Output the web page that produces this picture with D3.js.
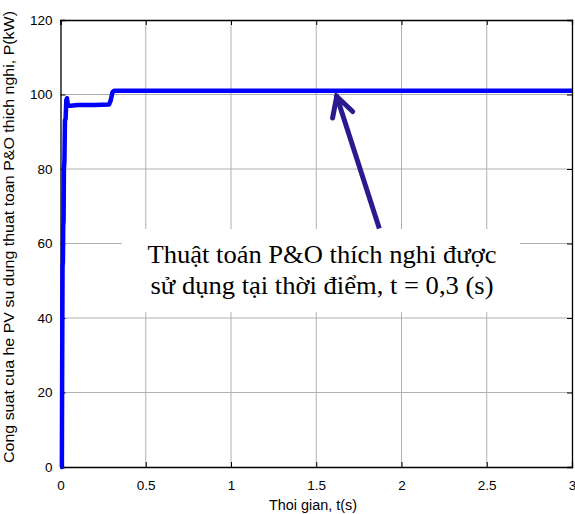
<!DOCTYPE html>
<html><head><meta charset="utf-8">
<script src="https://cdn.jsdelivr.net/npm/d3@7"></script>
<style>body{margin:0;background:#fff}svg{display:block}</style>
</head><body>
<svg id="c" width="575" height="514"></svg>
<script>
const timeS = [0.000, 0.008, 0.010, 0.012, 0.014, 0.016, 0.018, 0.020, 0.023, 0.026, 0.030, 0.034, 0.038, 0.042, 0.048, 0.060, 0.100, 0.200, 0.285, 0.295, 0.305, 0.315, 0.400, 1.000, 2.000, 3.000];
const powerKW = [0.0, 0.0, 30.0, 54.0, 55.0, 65.0, 66.0, 80.0, 82.0, 93.0, 93.5, 98.5, 99.0, 97.5, 97.0, 97.0, 97.2, 97.2, 97.3, 98.5, 100.6, 101.0, 101.0, 101.0, 101.0, 101.0];
const xTicks = [0, 0.5, 1, 1.5, 2, 2.5, 3];
const xTickLabels = ["0", "0.5", "1", "1.5", "2", "2.5", "3"];
const yTicks = [0, 20, 40, 60, 80, 100, 120];
const xLabel = "Thoi gian, t(s)";
const yLabel = "Cong suat cua he PV su dung thuat toan P&O thich nghi, P(kW)";
const noteLines = ["Thuật toán P&O thích nghi được", "sử dụng tại thời điểm, t = 0,3 (s)"];
const arrowFrom = [1.87, 64]; // data coords of arrow tail
const arrowTo = [1.62, 99.5];   // data coords of arrow head

const svg = d3.select("#c");
const L = 60.5, R = 572, T = 20, B = 467;
const x = d3.scaleLinear().domain([0, 3]).range([L, R]);
const y = d3.scaleLinear().domain([0, 120]).range([B, T]);
const sans = "Arial, 'Liberation Sans', sans-serif";

// grid
const g = svg.append("g");
g.selectAll(".gx").data(xTicks.slice(1, -1)).enter().append("line")
  .attr("x1", d => x(d)).attr("x2", d => x(d)).attr("y1", T).attr("y2", B)
  .attr("stroke", "#b0b0b0").attr("stroke-width", 1);
g.selectAll(".gy").data(yTicks.slice(1, -1)).enter().append("line")
  .attr("x1", L).attr("x2", R).attr("y1", d => y(d)).attr("y2", d => y(d))
  .attr("stroke", "#b0b0b0").attr("stroke-width", 1);

// text box (white background covering grid)
svg.append("rect").attr("x", 122).attr("y", 229).attr("width", 398).attr("height", 83).attr("fill", "#fff");

// axes
const xAxis = d3.axisBottom(x).tickValues(xTicks).tickFormat((d, i) => xTickLabels[i]).tickSize(-5).tickPadding(13);
const yAxis = d3.axisLeft(y).tickValues(yTicks).tickSize(-5).tickPadding(8);
const xTop = d3.axisTop(x).tickValues(xTicks).tickFormat("").tickSize(-5);
const yRight = d3.axisRight(y).tickValues(yTicks).tickFormat("").tickSize(-5);
function style(sel) {
  sel.select(".domain").attr("stroke", "#000").attr("stroke-width", 1.3);
  sel.selectAll(".tick line").attr("stroke", "#000");
  sel.selectAll("text").attr("font-family", sans).attr("font-size", 13.5).attr("fill", "#000");
}
svg.append("g").attr("transform", `translate(0,${B})`).call(xAxis).call(style);
svg.append("g").attr("transform", `translate(${L},0)`).call(yAxis).call(style);
svg.append("g").attr("transform", `translate(0,${T})`).call(xTop).call(style);
svg.append("g").attr("transform", `translate(${R},0)`).call(yRight).call(style);

// data line
const line = d3.line().x((d, i) => x(timeS[i])).y(d => y(d));
svg.append("path").datum(powerKW).attr("d", line)
  .attr("fill", "none").attr("stroke", "#0000ff").attr("stroke-width", 4.5).attr("stroke-linejoin", "round");

// labels
svg.append("text").attr("x", 313).attr("y", 510).attr("text-anchor", "middle")
  .attr("font-family", sans).attr("font-size", 14).attr("textLength", 88).attr("lengthAdjust", "spacingAndGlyphs").text(xLabel);
svg.append("text").attr("transform", `translate(14,237) rotate(-90)`).attr("text-anchor", "middle")
  .attr("font-family", sans).attr("font-size", 15.5).attr("textLength", 452).attr("lengthAdjust", "spacingAndGlyphs").text(yLabel);

// note
const noteLen = [349, 343];
svg.append("g").selectAll("text").data(noteLines).enter().append("text")
  .attr("x", 322).attr("y", (d, i) => 263 + i * 31).attr("text-anchor", "middle")
  .attr("font-family", "'Liberation Serif', 'Times New Roman', serif").attr("font-size", 25)
  .attr("textLength", (d, i) => noteLen[i]).attr("lengthAdjust", "spacingAndGlyphs")
  .attr("fill", "#000").text(d => d);

// arrow
const ax0 = x(arrowFrom[0]), ay0 = y(arrowFrom[1]), ax1 = x(arrowTo[0]), ay1 = y(arrowTo[1]);
const ang = Math.atan2(ay1 - ay0, ax1 - ax0);
const hl = 22, ha = 0.5;
svg.append("line").attr("x1", ax0).attr("y1", ay0).attr("x2", ax1 + 2 * Math.cos(ang)).attr("y2", ay1 + 2 * Math.sin(ang))
  .attr("stroke", "#2a1a8e").attr("stroke-width", 5);
svg.append("path")
  .attr("d", `M${ax1 - hl * Math.cos(ang - ha)},${ay1 - hl * Math.sin(ang - ha)} L${ax1},${ay1} L${ax1 - hl * Math.cos(ang + ha)},${ay1 - hl * Math.sin(ang + ha)}`)
  .attr("fill", "none").attr("stroke", "#2a1a8e").attr("stroke-width", 5).attr("stroke-linejoin", "miter").attr("stroke-linecap", "round");
</script>
</body></html>
